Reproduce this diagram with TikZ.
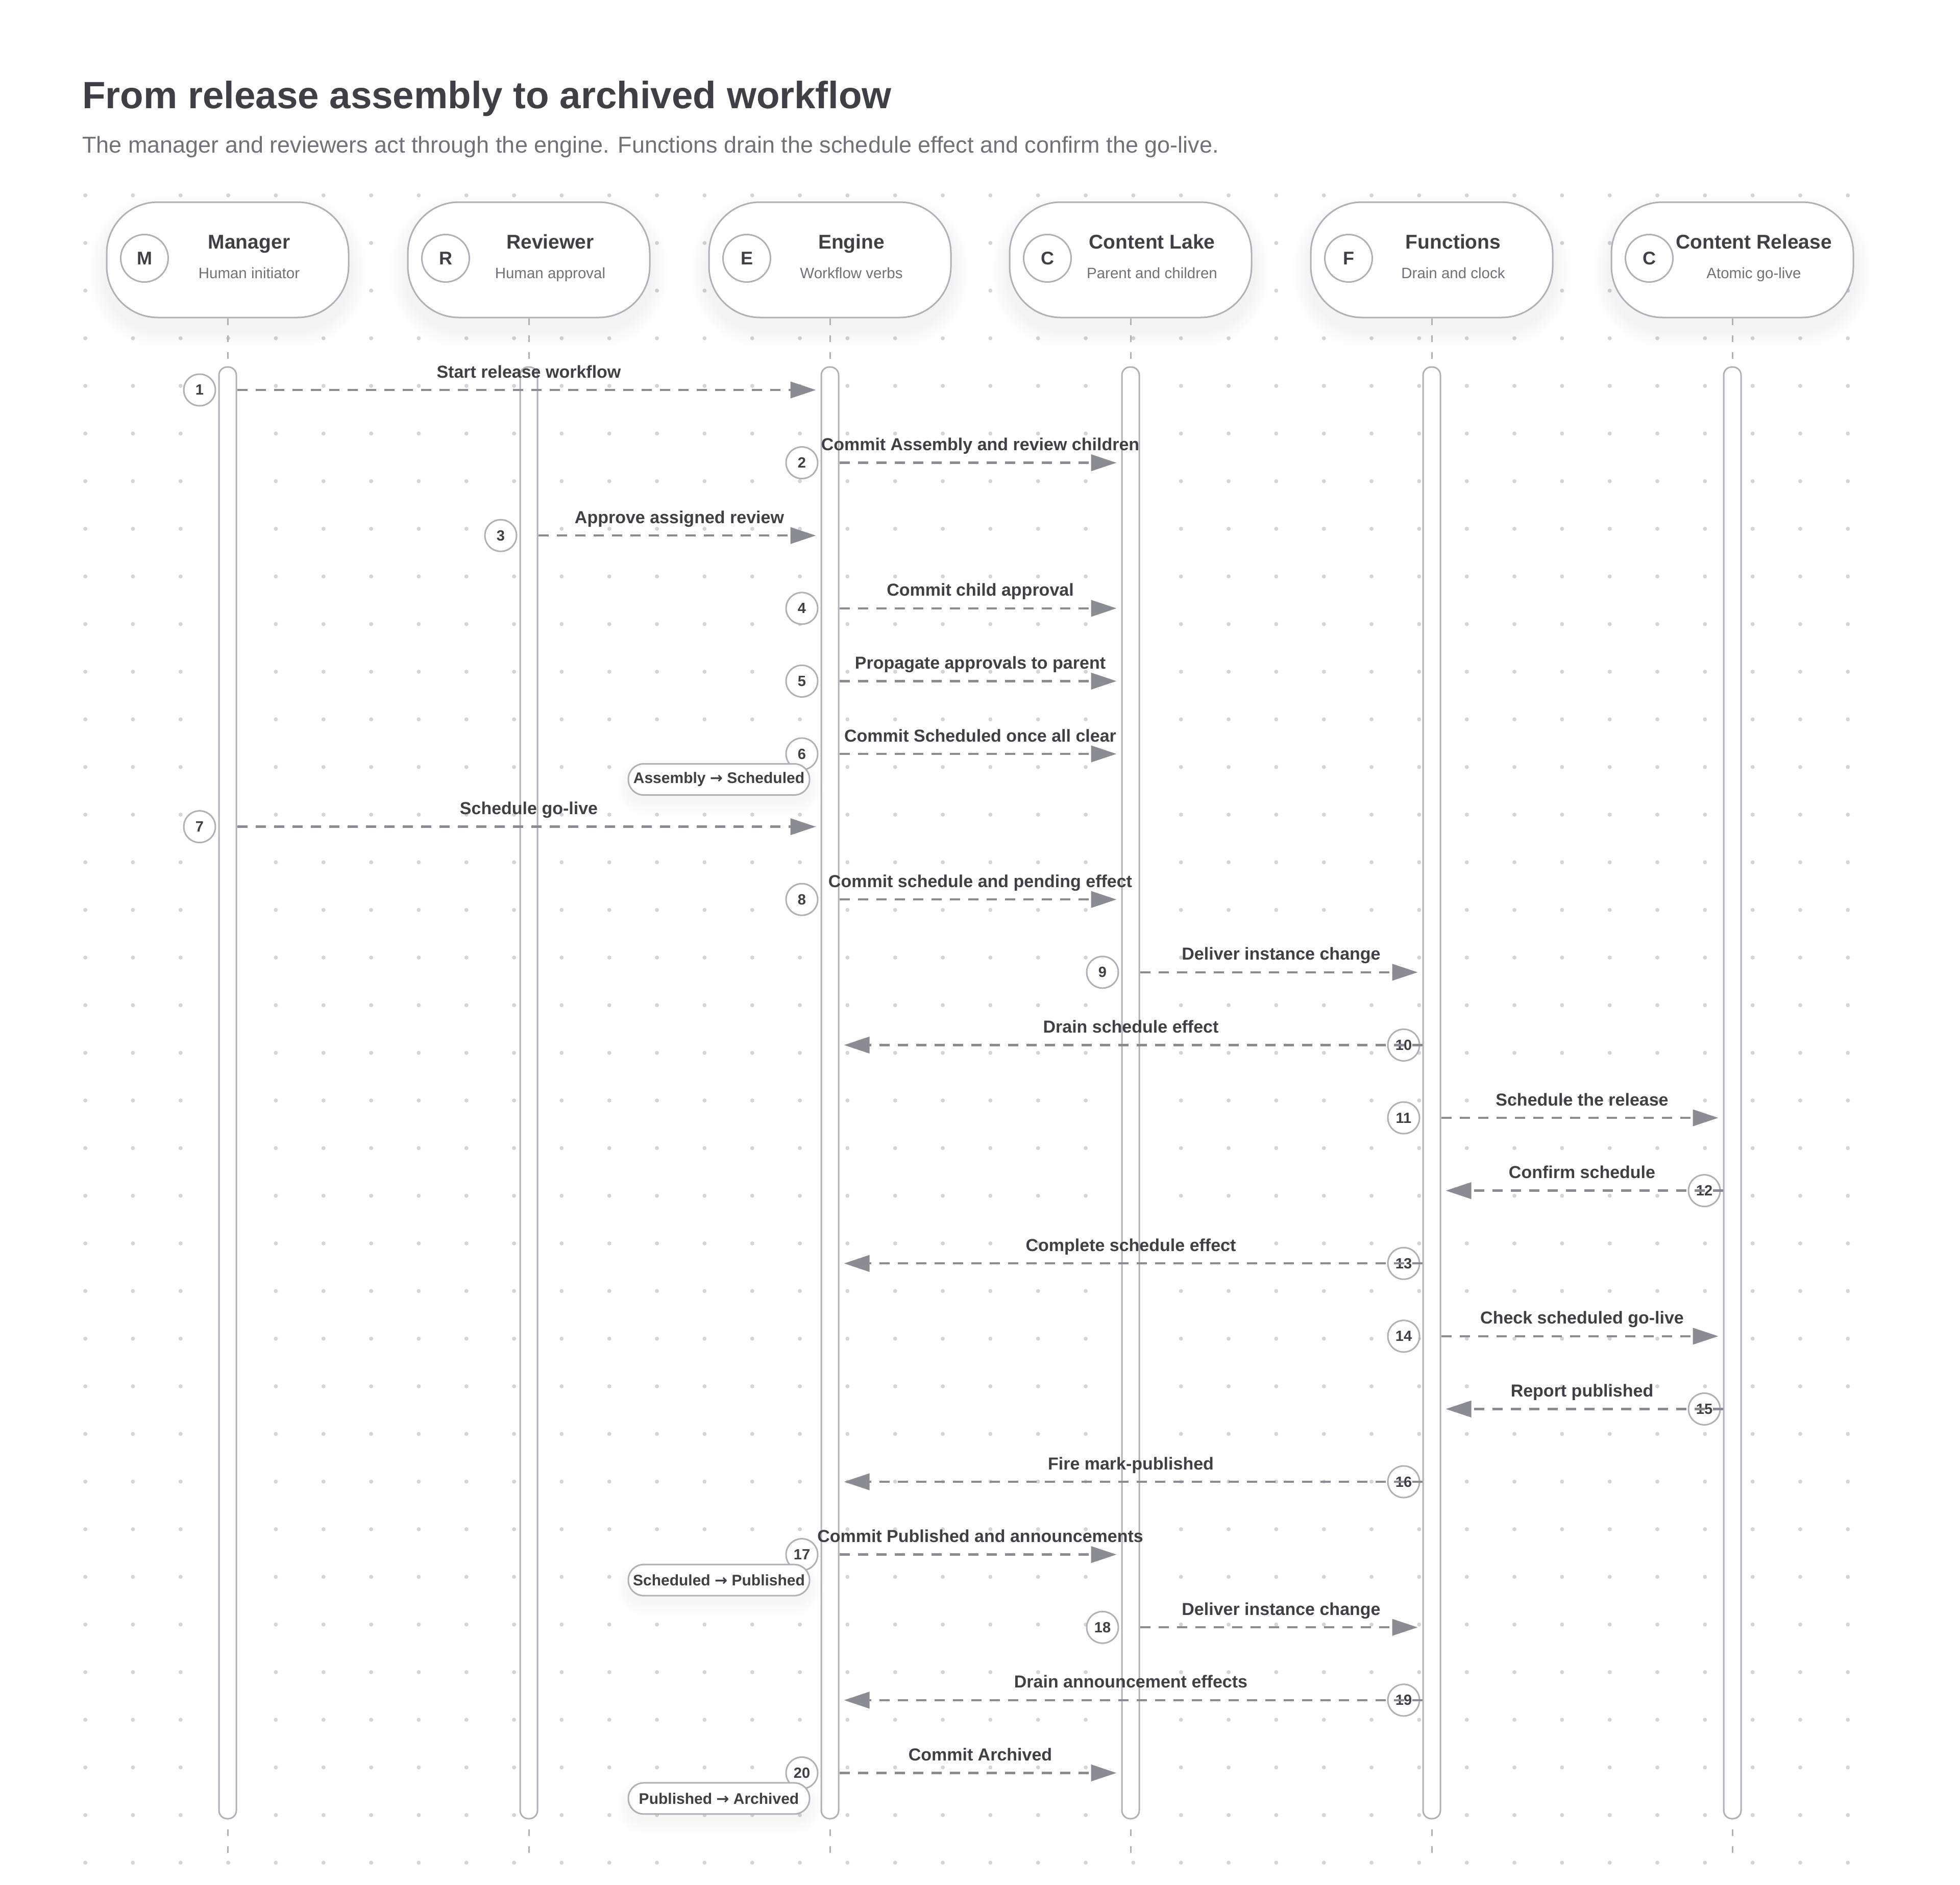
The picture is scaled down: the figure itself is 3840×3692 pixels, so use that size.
\documentclass[tikz,border=0pt]{standalone}
\usepackage{fontspec}
\setmainfont{Liberation Sans}
\newfontfamily\symfont{DejaVu Sans}
\usetikzlibrary{arrows.meta,calc}
\definecolor{ink}{HTML}{3F3F46}
\definecolor{subink}{HTML}{71717A}
\definecolor{edgec}{HTML}{B0B0B8}
\definecolor{arrowc}{HTML}{8B8B93}
\definecolor{dotc}{HTML}{D4D4D9}
\newcommand\lxof[1]{\ifcase#1\or446\or1036\or1626\or2215\or2805\or3394\fi}
\newcommand\fs[1]{\fontsize{#1}{#1}\selectfont}
\newcommand\arr{{\symfont\bfseries →}}
\tikzset{
  headbox/.style={draw=edgec, line width=3pt, fill=white, rounded corners=100pt, minimum width=474pt, minimum height=226pt, inner sep=0pt},
  headcirc/.style={circle, draw=edgec, line width=3pt, fill=white, minimum size=93pt, inner sep=0pt, font=\fs{36}\bfseries, text=ink},
  headtitle/.style={anchor=base, inner sep=0pt, font=\fs{39}\bfseries, text=ink},
  headsub/.style={anchor=base, inner sep=0pt, font=\fs{29.5}, text=subink},
  actbar/.style={draw=edgec, line width=3pt, fill=white, rounded corners=16pt, minimum width=34pt, minimum height=2844pt, inner sep=0pt},
  lifedash/.style={draw=edgec, line width=3pt, dash pattern=on 13pt off 20pt},
  numc/.style={circle, draw=edgec, line width=3pt, fill=white, minimum size=62pt, inner sep=0pt, font=\fs{29}\bfseries, text=ink},
  msglabel/.style={anchor=base, inner sep=0pt, font=\fs{34}\bfseries, text=ink},
  msg/.style={draw=arrowc, line width=4.5pt, dash pattern=on 20pt off 16pt, -{Triangle[length=50pt,width=32pt]}},
  tagbox/.style={draw=edgec, line width=3pt, fill=white, rounded corners=30pt, minimum width=355pt, minimum height=61pt, inner sep=0pt, font=\fs{30}\bfseries, text=ink},
  shadowlayer/.style={fill=black, opacity=0.005},
}
\begin{document}
\begin{tikzpicture}[x=1pt,y=-1pt]
\fill[white] (0,0) rectangle (3840,3692);
\useasboundingbox (0,0) rectangle (3840,3692);
% dot grid
\foreach \i in {0,...,37}{
  \foreach \j in {0,...,35}{
    \fill[dotc] ({167.1+93.33*\i},{382.7+93.33*\j}) circle (4);
  }
}
% title
\node[anchor=base west, inner sep=0pt, font=\fs{74.5}\bfseries, text=ink] (title) at (161,212) {From release assembly to archived workflow};
\node[anchor=base west, inner sep=0pt, font=\fs{45}, text=subink] (subtitle) at (161,299) {The manager and reviewers act through the engine. Functions drain the schedule effect and confirm the go-live.};
% headers
\foreach \i/\L/\T/\S in {1/M/Manager/Human initiator,2/R/Reviewer/Human approval,3/E/Engine/Workflow verbs,4/C/Content Lake/Parent and children,5/F/Functions/Drain and clock,6/C/Content Release/Atomic go-live}{
  \pgfmathsetmacro\xx{\lxof{\i}}
  \foreach \k in {1,...,12}{
    \pgfmathsetmacro\rr{100+3*\k}
    \fill[shadowlayer, rounded corners=\rr pt] ({\xx-237-3*\k},{396-3*\k+22}) rectangle ({\xx+237+3*\k},{622+3*\k+22});
  }
  \node[headbox] (head\i) at (\xx,509) {};
  \node[headcirc] (hc\i) at ({\xx-163},506) {\L};
  \node[headtitle] (ht\i) at ({\xx+42},487) {\T};
  \node[headsub] (hs\i) at ({\xx+42},545) {\S};
  \node[actbar] (bar\i) at (\xx,2141) {};
  \coordinate (end\i) at (\xx,3640);
  \draw[lifedash] (head\i.south) -- (bar\i.north);
  \draw[lifedash, dash phase=14pt] (bar\i.south) -- (end\i);
}
% messages
\foreach \n/\a/\b/\t in {
 1/1/3/Start release workflow,
 2/3/4/Commit Assembly and review children,
 3/2/3/Approve assigned review,
 4/3/4/Commit child approval,
 5/3/4/Propagate approvals to parent,
 6/3/4/Commit Scheduled once all clear,
 7/1/3/Schedule go-live,
 8/3/4/Commit schedule and pending effect,
 9/4/5/Deliver instance change,
 10/5/3/Drain schedule effect,
 11/5/6/Schedule the release,
 12/6/5/Confirm schedule,
 13/5/3/Complete schedule effect,
 14/5/6/Check scheduled go-live,
 15/6/5/Report published,
 16/5/3/Fire mark-published,
 17/3/4/Commit Published and announcements,
 18/4/5/Deliver instance change,
 19/5/3/Drain announcement effects,
 20/3/4/Commit Archived}{
  \pgfmathsetmacro\yy{764+142.6*(\n-1)}
  \pgfmathsetmacro\xs{\lxof{\a}}
  \pgfmathsetmacro\xm{(\lxof{\a}+\lxof{\b})/2}
  \coordinate (r\n) at (0,\yy);
  \node[numc] (c\n) at ({\xs-55},\yy) {\n};
  \node[msglabel] (t\n) at (\xm,{\yy-24}) {\t};
  \ifnum\a<\b
    \draw[msg] (bar\a.east |- r\n) -- ([xshift=-9pt]bar\b.west |- r\n);
  \else
    \draw[msg] (bar\a.west |- r\n) -- ([xshift=9pt]bar\b.east |- r\n);
  \fi
}
% state tags
\foreach \n/\p/\q in {6/Assembly/Scheduled,17/Scheduled/Published,20/Published/Archived}{
  \pgfmathsetmacro\yy{764+142.6*(\n-1)+50}
  \foreach \k in {1,...,8}{
    \pgfmathsetmacro\rr{30+3*\k}
    \fill[shadowlayer, rounded corners=\rr pt] ({1408.5-177.5-3*\k},{\yy-30.5-3*\k+16}) rectangle ({1408.5+177.5+3*\k},{\yy+30.5+3*\k+16});
  }
  \node[tagbox] (tag\n) at (1408.5,\yy) {\p\ \arr\ \q};
}
\end{tikzpicture}
\end{document}
